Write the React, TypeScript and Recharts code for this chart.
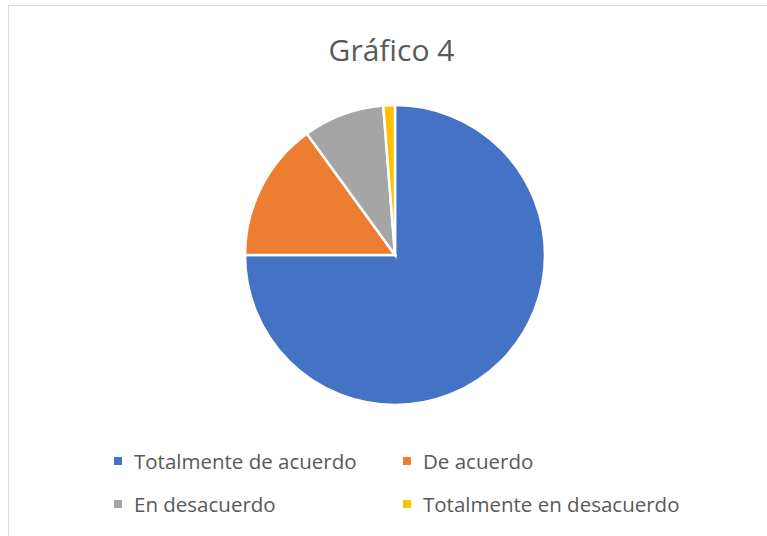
import { PieChart, Pie, Cell, Legend } from "recharts"

const categories = [
  "Totalmente de acuerdo",
  "De acuerdo",
  "En desacuerdo",
  "Totalmente en desacuerdo",
]
const values = [60, 12, 7, 1]
const colors = ["#4472C4", "#ED7D31", "#A5A5A5", "#FFC000"]

const data = categories.map((name, i) => ({ name, value: values[i] }))

const textColor = "#595959"
const font = "'Open Sans', sans-serif"

// legend keeps the series order (recharts sorts its payload)
function LegendGrid() {
  return (
    <div
      style={{
        display: "grid",
        gridTemplateColumns: "289px 300px",
        rowGap: 17,
        fontFamily: font,
        fontSize: 20.5,
        color: textColor,
      }}
    >
      {categories.map((name, i) => (
        <div key={name} style={{ display: "flex", alignItems: "center", height: 26 }}>
          <span
            style={{
              display: "inline-block",
              width: 8,
              height: 8,
              background: colors[i],
              marginRight: 12,
            }}
          />
          <span style={{ whiteSpace: "nowrap" }}>{name}</span>
        </div>
      ))}
    </div>
  )
}

export default function App() {
  return (
    <div
      style={{
        position: "absolute",
        left: 0,
        top: 0,
        width: 767,
        height: 536,
        background: "#fff",
        overflow: "hidden",
      }}
    >
      <div
        style={{
          position: "absolute",
          left: 8,
          top: 5,
          width: 800,
          height: 600,
          border: "1px solid #D9D9D9",
        }}
      />
      <div
        style={{
          position: "absolute",
          left: 0,
          top: 30,
          width: 783,
          textAlign: "center",
          fontFamily: font,
          fontSize: 30,
          color: textColor,
          lineHeight: "40px",
        }}
      >
        Gráfico 4
      </div>
      <div style={{ position: "absolute", left: 0, top: 0 }}>
        <PieChart width={767} height={536} margin={{ top: 0, right: 0, bottom: 0, left: 0 }}>
          <Pie
            data={data}
            dataKey="value"
            nameKey="name"
            cx={395}
            cy={255}
            outerRadius={150}
            startAngle={90}
            endAngle={-270}
            stroke="#ffffff"
            strokeWidth={2.5}
            isAnimationActive={false}
            legendType="square"
          >
            {data.map((d, i) => (
              <Cell key={d.name} fill={colors[i]} />
            ))}
          </Pie>
          <Legend
            content={() => <LegendGrid />}
            wrapperStyle={{ position: "absolute", left: 114, top: 448, width: 620 }}
          />
        </PieChart>
      </div>
    </div>
  )
}
